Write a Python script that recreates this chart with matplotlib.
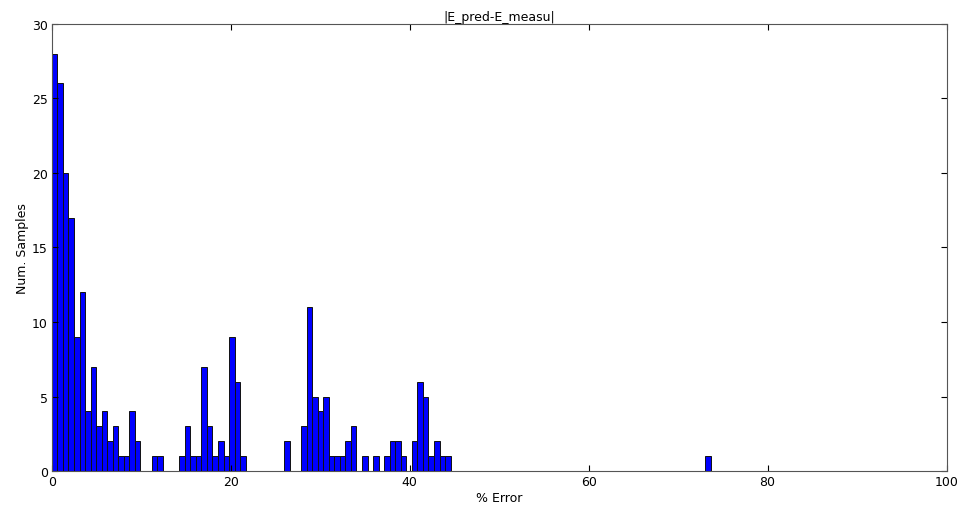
import numpy as np
import matplotlib
matplotlib.use("Agg")
from matplotlib import pyplot as plt

# histogram counts per bin (bin width ~0.619 % error, starting at 0)
bin_width = 0.619
counts = [28, 26, 20, 17, 9, 12, 4, 7, 3, 4,
          2, 3, 1, 1, 4, 2, 0, 0, 1, 1,
          0, 0, 0, 1, 3, 1, 1, 7, 3, 1,
          2, 1, 9, 6, 1, 0, 0, 0, 0, 0,
          0, 0, 2, 0, 0, 3, 11, 5, 4, 5,
          1, 1, 1, 2, 3, 0, 1, 0, 1, 0,
          1, 2, 2, 1, 0, 2, 6, 5, 1, 2,
          1, 1] + [0] * 46 + [1]

edges = np.arange(len(counts)) * bin_width

plt.rcParams['font.size'] = 9
fig = plt.figure(figsize=(9.6, 5.06), dpi=100)
ax = fig.add_axes([0.054, 0.067, 0.932, 0.884])

ax.bar(edges, counts, width=bin_width, align='edge', color='#0000ff',
       edgecolor='#111111', linewidth=0.7)

ax.set_xlim(0, 100)
ax.set_ylim(0, 30)
ax.set_xticks([0, 20, 40, 60, 80, 100])
ax.set_yticks([0, 5, 10, 15, 20, 25, 30])
ax.tick_params(direction='in', length=4, top=True, right=True, pad=3)
for s in ax.spines.values():
    s.set_color('#555555')

ax.set_title("|E_pred-E_measu|", fontsize=9, pad=3)
ax.set_xlabel("% Error", labelpad=2)
ax.set_ylabel("Num. Samples", labelpad=2)

fig.savefig("out.png", dpi=100)
